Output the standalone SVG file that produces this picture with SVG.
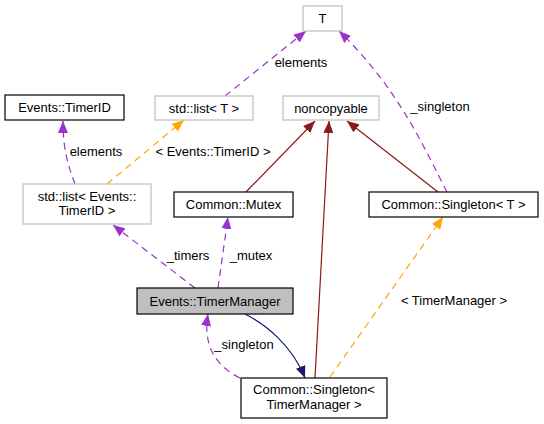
<svg xmlns="http://www.w3.org/2000/svg" width="544" height="424" viewBox="0 0 544 424">
<style>
text{font-family:"Liberation Sans",Arial,Helvetica,sans-serif;font-size:13px;fill:#000;text-anchor:middle}
.nb{fill:#fff;stroke:#000;stroke-width:1.2}
.ng{fill:#fff;stroke:#bfbfbf;stroke-width:1.2}
.nf{fill:#bfbfbf;stroke:#000;stroke-width:1.2}
.e{fill:none;stroke-width:1.2}
.p{stroke:#9a32cd;stroke-dasharray:7,5;marker-end:url(#ap)}
.o{stroke:#ffa500;stroke-dasharray:7,5;marker-end:url(#ao)}
.r{stroke:#8b1a1a;marker-end:url(#ar)}
.n{stroke:#191970;marker-end:url(#an)}
</style>
<defs>
<marker id="ap" markerUnits="userSpaceOnUse" markerWidth="13" markerHeight="10" refX="12" refY="5" orient="auto"><path d="M0,0 L12,5 L0,10 z" fill="#9a32cd"/></marker>
<marker id="ao" markerUnits="userSpaceOnUse" markerWidth="13" markerHeight="10" refX="12" refY="5" orient="auto"><path d="M0,0 L12,5 L0,10 z" fill="#ffa500"/></marker>
<marker id="ar" markerUnits="userSpaceOnUse" markerWidth="13" markerHeight="10" refX="12" refY="5" orient="auto"><path d="M0,0 L12,5 L0,10 z" fill="#8b1a1a"/></marker>
<marker id="an" markerUnits="userSpaceOnUse" markerWidth="13" markerHeight="10" refX="12" refY="5" orient="auto"><path d="M0,0 L12,5 L0,10 z" fill="#191970"/></marker>
</defs>
<g id="connectors">
<path class="e p" d="M225,96 L306,31"/>
<text x="301" y="67">elements</text>
<path class="e p" d="M447,192 C425,150 400,90 339,31"/>
<text x="440" y="111">_singleton</text>
<path class="e r" d="M246,192 L315,121"/>
<path class="e r" d="M315,378 L329,121"/>
<path class="e r" d="M438,192 L347,121"/>
<path class="e p" d="M75,184 C68,165 63,150 63,121"/>
<text x="96" y="156">elements</text>
<path class="e o" d="M107,184 L184,120"/>
<text x="213" y="156">&lt; Events::TimerID &gt;</text>
<path class="e p" d="M195,288 L113,225"/>
<text x="188" y="260">_timers</text>
<path class="e p" d="M218,288 L228,217"/>
<text x="251" y="260">_mutex</text>
<path class="e n" d="M245,314 C265,324 292,345 305,378"/>
<path class="e p" d="M240,378 C220,368 202,350 208,314"/>
<text x="244" y="349">_singleton</text>
<path class="e o" d="M330,377 L443,217"/>
<text x="454" y="305">&lt; TimerManager &gt;</text>
</g>
<g id="node-T"><rect class="ng" x="303" y="6" width="39" height="25"/><text x="322.5" y="23">T</text></g>
<g id="node-noncopyable"><rect class="ng" x="283" y="96" width="96" height="24"/><text x="331" y="112.5">noncopyable</text></g>
<g id="node-singleton-t"><rect class="nb" x="369" y="192" width="169" height="25"/><text x="453.5" y="209">Common::Singleton&lt; T &gt;</text></g>
<g id="node-timerid"><rect class="nb" x="5" y="95" width="119" height="25"/><text x="64.5" y="112">Events::TimerID</text></g>
<g id="node-list-t"><rect class="ng" x="155" y="96" width="98" height="24"/><text x="204" y="112.5">std::list&lt; T &gt;</text></g>
<g id="node-list-timerid"><rect class="ng" x="23" y="184" width="128" height="40"/><text x="87" y="201">std::list&lt; Events::</text><text x="87" y="215">TimerID &gt;</text></g>
<g id="node-mutex"><rect class="nb" x="174" y="192" width="119" height="25"/><text x="233.5" y="209">Common::Mutex</text></g>
<g id="node-timermanager"><rect class="nf" x="137" y="288" width="156" height="26"/><text x="215" y="305.5">Events::TimerManager</text></g>
<g id="node-singleton-tm"><rect class="nb" x="241" y="378" width="146" height="40"/><text x="314" y="394">Common::Singleton&lt;</text><text x="314" y="408.5">TimerManager &gt;</text></g>
</svg>
